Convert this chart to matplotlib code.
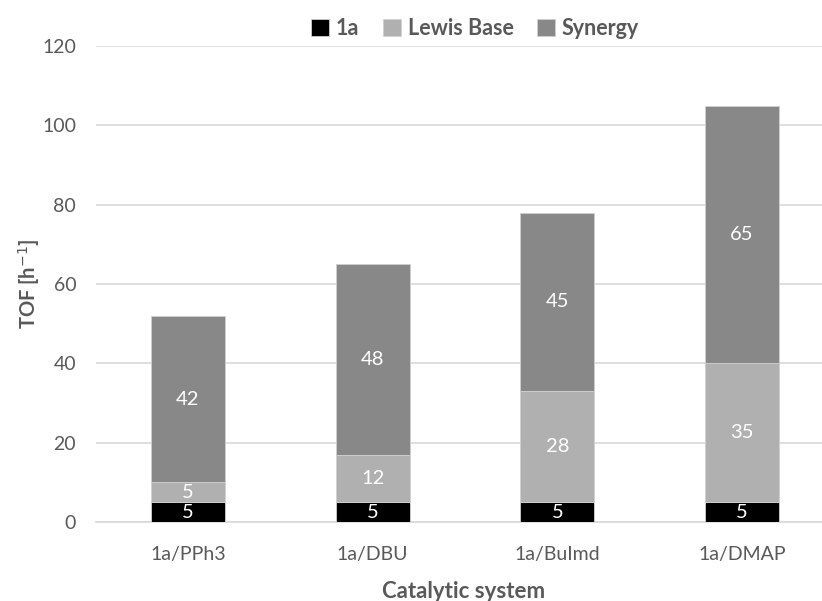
import matplotlib
matplotlib.use("Agg")
import matplotlib.pyplot as plt
import numpy as np

categories = ["1a/PPh3", "1a/DBU", "1a/BuImd", "1a/DMAP"]
series_names = ["1a", "Lewis Base", "Synergy"]
val_1a = [5, 5, 5, 5]
val_lewis = [5, 12, 28, 35]
val_synergy = [42, 48, 45, 65]
yticks = [0, 20, 40, 60, 80, 100, 120]

plt.rcParams['font.family'] = ['Lato', 'DejaVu Sans']

fig = plt.figure(figsize=(8.22, 6.01), dpi=100)
ax = fig.add_axes([0.1164, 0.1314, 0.8986, 0.792])

x = np.arange(len(categories))
w = 0.40
colors = ["#000000", "#b0b0b0", "#888888"]
bottoms = np.zeros(len(categories))
for name, vals, c in zip(series_names, [val_1a, val_lewis, val_synergy], colors):
    vals = np.array(vals, dtype=float)
    ax.bar(x, vals, w, bottom=bottoms, color=c, label=name,
           edgecolor="#d0d0d0", linewidth=0.6, zorder=3)
    for xi, b, v in zip(x, bottoms, vals):
        ax.text(xi, b + v / 2, f"{int(v)}", ha="center", va="center",
                color="white", fontsize=14.5, zorder=4)
    bottoms += vals

ax.set_xlim(-0.5, 3.5)
ax.set_ylim(0, 120)
ax.set_yticks(yticks)
ax.set_xticks(x)
ax.set_xticklabels(categories)
ax.tick_params(axis="both", length=0, labelsize=14, labelcolor="#595959")
ax.tick_params(axis="x", pad=17)
ax.tick_params(axis="y", pad=14)
ax.grid(axis="y", color="#d9d9d9", linewidth=1.2, zorder=0)
for s in ["top", "right", "left"]:
    ax.spines[s].set_visible(False)
ax.spines["bottom"].set_color("#d9d9d9")
ax.spines["bottom"].set_linewidth(1.2)

ax.set_ylabel("TOF [h$^{-1}$]", fontsize=14.5, fontweight="bold", color="#595959")
ax.yaxis.set_label_coords(-0.0903, 0.5)
ax.yaxis.label.set_verticalalignment("center")
ax.set_xlabel("Catalytic system", fontsize=16, fontweight="bold", color="#595959")
ax.xaxis.set_label_coords(0.4987, -0.147)
ax.xaxis.label.set_verticalalignment("center")

leg = fig.legend(loc="center", bbox_to_anchor=(0.578, 0.952), ncol=3, frameon=False,
                 prop={"weight": "bold", "size": 15.5}, handlelength=0.85, handleheight=0.85,
                 handletextpad=0.3, columnspacing=1.1)
for t in leg.get_texts():
    t.set_color("#595959")

fig.savefig("out.png", dpi=100)
